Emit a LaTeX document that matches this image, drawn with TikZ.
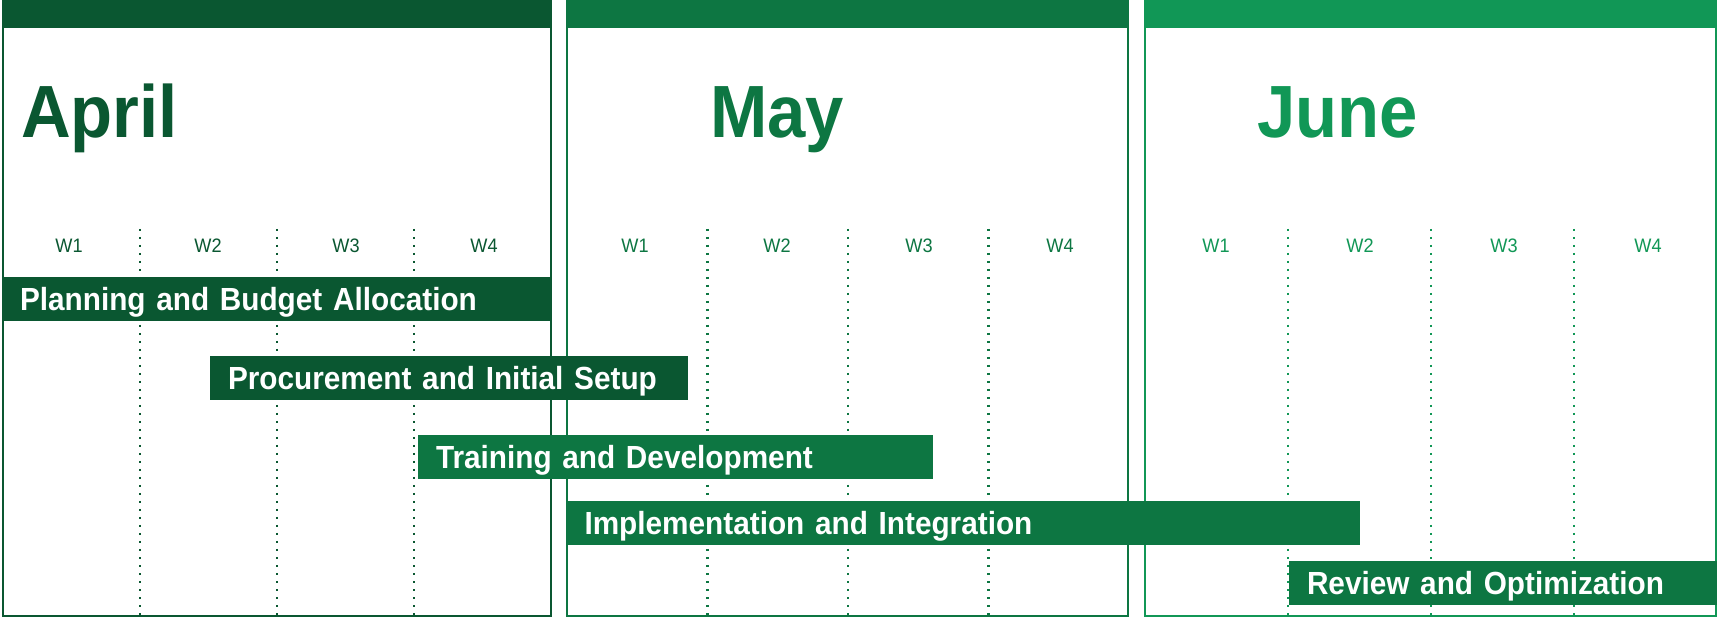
\documentclass[tikz,border=0pt]{standalone}
\usepackage{fontspec}
\setmainfont{Liberation Sans}[FakeStretch=0.93, WordSpace=0.8]
\usepackage{tikz}
\usepackage{xcolor}

\definecolor{aprilgreen}{HTML}{0A5731}
\definecolor{maygreen}{HTML}{0D7642}
\definecolor{junegreen}{HTML}{119756}

\tikzset{
  panel/.style={rectangle, draw, line width=2pt, fill=white, inner sep=0pt, outer sep=0pt, anchor=north west, minimum height=614.5pt},
  header/.style={rectangle, inner sep=0pt, outer sep=0pt, anchor=north west, minimum height=28pt},
  month/.style={anchor=base west, inner sep=0pt, font=\fontsize{74}{80}\selectfont\bfseries},
  week/.style={inner sep=0pt, font=\fontsize{19.5}{22}\selectfont},
  weekline/.style={line width=2.4pt, dash pattern=on 2.4pt off 5.6pt},
  taskbar/.style={rectangle, anchor=north west, inner xsep=18pt, inner ysep=0pt, outer sep=0pt, minimum height=44pt, text height=23pt, text depth=0pt, align=left, text=white, font=\fontsize{32}{36}\selectfont\bfseries}
}

\begin{document}
\begin{tikzpicture}[x=1pt, y=-1pt]
      % Variables
      \def \weeky   {246}
      \def \linetop {229}
      \def \linebot {616}

      \useasboundingbox (0,0) rectangle (1717,617);

      % Panels
      \node[panel, draw=aprilgreen, minimum width=548pt] (aprilbox) at (2.5,1) {};
      \node[panel, draw=maygreen, minimum width=561pt] (maybox) at (567,1) {};
      \node[panel, draw=junegreen, minimum width=571pt] (junebox) at (1144.5,1) {};

      % Headers
      \node[header, fill=aprilgreen, minimum width=550pt] (aprilhead) at (2,0) {};
      \node[header, fill=maygreen, minimum width=563pt] (mayhead) at (566,0) {};
      \node[header, fill=junegreen, minimum width=573pt] (junehead) at (1144,0) {};

      % Week separators
      \draw[weekline, aprilgreen] (140,\linetop) -- (140,\linebot);
      \draw[weekline, aprilgreen] (277,\linetop) -- (277,\linebot);
      \draw[weekline, aprilgreen] (414,\linetop) -- (414,\linebot);
      \draw[weekline, maygreen] (707.5,\linetop) -- (707.5,\linebot);
      \draw[weekline, maygreen] (848,\linetop) -- (848,\linebot);
      \draw[weekline, maygreen] (988.5,\linetop) -- (988.5,\linebot);
      \draw[weekline, junegreen] (1288,\linetop) -- (1288,\linebot);
      \draw[weekline, junegreen] (1431,\linetop) -- (1431,\linebot);
      \draw[weekline, junegreen] (1574,\linetop) -- (1574,\linebot);

      % Months
      \node[month, text=aprilgreen] (april) at (21,138) {April};
      \node[month, text=maygreen] (may) at (710,138) {May};
      \node[month, text=junegreen] (june) at (1257,138) {June};

      % Weeks
      \node[week, text=aprilgreen] (aw1) at (69,\weeky) {W1};
      \node[week, text=aprilgreen] (aw2) at (208,\weeky) {W2};
      \node[week, text=aprilgreen] (aw3) at (346,\weeky) {W3};
      \node[week, text=aprilgreen] (aw4) at (484,\weeky) {W4};
      \node[week, text=maygreen] (mw1) at (635,\weeky) {W1};
      \node[week, text=maygreen] (mw2) at (777,\weeky) {W2};
      \node[week, text=maygreen] (mw3) at (919,\weeky) {W3};
      \node[week, text=maygreen] (mw4) at (1060,\weeky) {W4};
      \node[week, text=junegreen] (jw1) at (1216,\weeky) {W1};
      \node[week, text=junegreen] (jw2) at (1360,\weeky) {W2};
      \node[week, text=junegreen] (jw3) at (1504,\weeky) {W3};
      \node[week, text=junegreen] (jw4) at (1648,\weeky) {W4};

      % Tasks
      \node[taskbar, fill=aprilgreen, text width=513pt] (planning) at (2,277) {Planning and Budget Allocation};
      \node[taskbar, fill=aprilgreen, text width=442pt] (procurement) at (210,356) {Procurement and Initial Setup};
      \node[taskbar, fill=maygreen, text width=479pt] (training) at (418,435) {Training and Development};
      \node[taskbar, fill=maygreen, text width=757pt] (implementation) at (566.5,501) {Implementation and Integration};
      \node[taskbar, fill=maygreen, text width=392pt] (review) at (1289,561) {Review and Optimization};

    \end{tikzpicture}
\end{document}
